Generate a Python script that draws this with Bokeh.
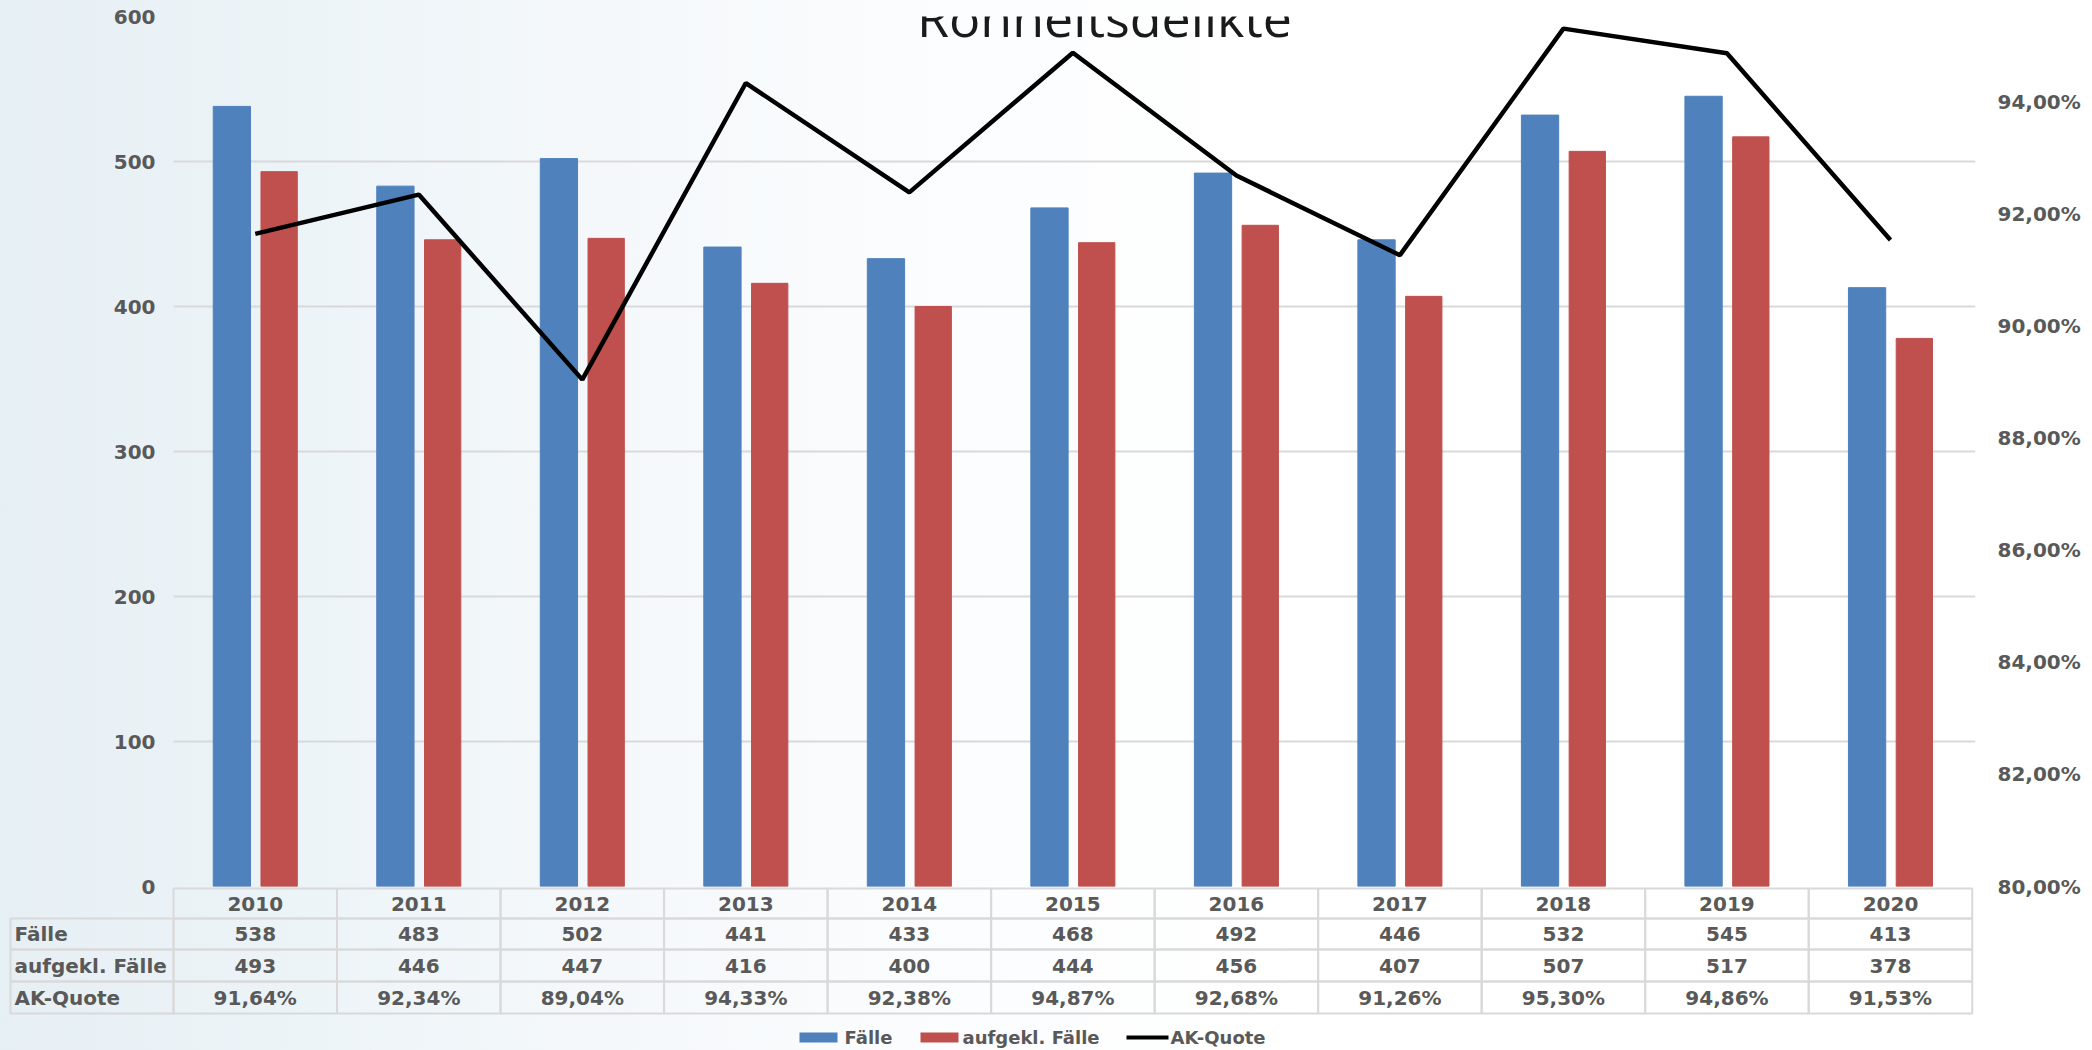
from bokeh.plotting import figure
from bokeh.models import Range1d, LinearAxis, FixedTicker, ColumnDataSource, Label
from bokeh.embed import file_html
from bokeh.resources import INLINE
from bokeh.core.properties import value

# ---------------- data ----------------
title_text = "Rohheitsdelikte"
years = ["2010", "2011", "2012", "2013", "2014", "2015", "2016", "2017", "2018", "2019", "2020"]
faelle = [538, 483, 502, 441, 433, 468, 492, 446, 532, 545, 413]
aufgekl = [493, 446, 447, 416, 400, 444, 456, 407, 507, 517, 378]
quote = [91.64, 92.34, 89.04, 94.33, 92.38, 94.87, 92.68, 91.26, 95.30, 94.86, 91.53]
row_labels = ["Fälle", "aufgekl. Fälle", "AK-Quote"]
left_ticks = [0, 100, 200, 300, 400, 500, 600]
right_ticks = [80, 82, 84, 86, 88, 90, 92, 94]
right_tick_labels = ["80,00%", "82,00%", "84,00%", "86,00%", "88,00%", "90,00%", "92,00%", "94,00%"]
series_names = ["Fälle", "aufgekl. Fälle", "AK-Quote"]

def pct(v):
    return f"{v:.2f}".replace(".", ",") + "%"

# ---------------- geometry (canvas px) ----------------
W, H = 2092, 1050
FRAME_L, FRAME_R = 173, 1975
FRAME_T, FRAME_B = 16, 886
X0, X1 = -0.5, 10.52
ppc = (FRAME_R - FRAME_L) / (X1 - X0)          # px per category
ppu = (FRAME_B - FRAME_T) / 600.0                # px per left unit
ppp = 56.07                                      # px per percent
P_HI = 80 + (FRAME_B - FRAME_T) / ppp

def dx(px):
    return X0 + (px - FRAME_L) / ppc

def dy(py):
    return (FRAME_B - py) / ppu

GRAY = "#595959"
GRID = "#d9d9d9"
BLUE = "#4F81BD"
RED = "#C0504D"
FONT = "DejaVu Sans"
BG = "linear-gradient(90deg, #e6eff4 0%, #edf4f8 15%, #f6f9fb 32%, #fcfdfe 48%, #ffffff 62%)"

idx = list(range(len(years)))

p = figure(width=W, height=H,
           x_range=Range1d(X0, X1), y_range=Range1d(0, 600),
           output_backend="svg", toolbar_location=None,
           x_axis_location=None,
           min_border_left=FRAME_L, min_border_right=W - FRAME_R,
           min_border_top=FRAME_T, min_border_bottom=H - FRAME_B)
p.extra_y_ranges = {"pct": Range1d(80, P_HI)}
p.border_fill_alpha = 0
p.background_fill_alpha = 0
p.outline_line_color = None
p.styles = {"background": BG}

# axes
ax = p.yaxis[0]
ax.ticker = FixedTicker(ticks=left_ticks)
raxis = LinearAxis(y_range_name="pct", ticker=FixedTicker(ticks=right_ticks),
                   major_label_overrides={t: l for t, l in zip(right_ticks, right_tick_labels)})
p.add_layout(raxis, "right")
for a in (ax, raxis):
    a.axis_line_color = None
    a.major_tick_line_color = None
    a.minor_tick_line_color = None
    a.major_label_text_font = FONT
    a.major_label_text_font_style = "bold"
    a.major_label_text_font_size = "20px"
    a.major_label_text_color = GRAY
ax.major_label_standoff = 12
raxis.major_label_standoff = 16

p.xgrid.visible = False
p.ygrid.ticker = FixedTicker(ticks=left_ticks[1:])
p.ygrid.grid_line_color = GRID
p.ygrid.grid_line_width = 2

src = ColumnDataSource(dict(
    x=idx, years=years, faelle=faelle, aufgekl=aufgekl, quote=quote,
    xb=[i - 0.143 for i in idx], xr=[i + 0.146 for i in idx],
))

p.vbar(x="xb", top="faelle", bottom=0, width=0.228, source=src, color=BLUE)
p.vbar(x="xr", top="aufgekl", bottom=0, width=0.222, source=src, color=RED)
p.line(x="x", y="quote", source=src, y_range_name="pct", line_color="black", line_width=4.5)

# ---------------- data table below the plot ----------------
OV = "overlay"   # not clipped to the frame
hdr_top, hdr_bot = dy(888), dy(918)
p.quad(left=[i - 0.5 for i in idx], right=[i + 0.5 for i in idx],
       top=[hdr_top] * len(idx), bottom=[hdr_bot] * len(idx),
       fill_color=None, line_color=GRID, line_width=2, level=OV)
txt_kw = dict(text_font=value(FONT), text_font_style="bold", text_font_size="20px",
              text_color=GRAY, text_baseline="middle", level=OV)
p.text(x="x", y=(hdr_top + hdr_bot) / 2, text="years", source=src,
       text_align="center", **txt_kw)

row_edges = [918, 949, 981, 1013]
tops = [dy(row_edges[k]) for k in range(3)]
bots = [dy(row_edges[k + 1]) for k in range(3)]
mids = [(a + b) / 2 for a, b in zip(tops, bots)]

L, R, T, B = [], [], [], []
for k in range(3):
    L.append(dx(10)); R.append(X0); T.append(tops[k]); B.append(bots[k])
    for i in idx:
        L.append(i - 0.5); R.append(i + 0.5); T.append(tops[k]); B.append(bots[k])
p.quad(left=L, right=R, top=T, bottom=B, fill_color=None, line_color=GRID, line_width=2, level=OV)

p.text(x=[dx(14)] * 3, y=mids, text=row_labels, text_align="left", **txt_kw)
rows = [[str(v) for v in faelle], [str(v) for v in aufgekl], [pct(v) for v in quote]]
for k in range(3):
    p.text(x=idx, y=[mids[k]] * len(idx), text=rows[k], text_align="center", **txt_kw)

# ---------------- legend ----------------
ly = dy(1037)
p.rect(x=[dx(818), dx(939)], y=[ly, ly], width=[38 / ppc, 38 / ppc], height=[10 / ppu, 10 / ppu],
       fill_color=[BLUE, RED], line_color=None, level=OV)
p.line(x=[dx(1126), dx(1168)], y=[ly, ly], line_color="black", line_width=4, level=OV)
p.text(x=[dx(844), dx(962), dx(1170)], y=[ly] * 3, text=series_names,
       text_align="left", text_font=value(FONT), text_font_style="bold",
       text_font_size="18px", text_color=GRAY, text_baseline="middle", level=OV)

# ---------------- title (cut off at the top, as in the source) ----------------
title = Label(x=dx(1104), y=dy(16), text=title_text,
              text_align="center", text_baseline="alphabetic",
              text_font="Open Sans", text_font_size="52px", text_color="#1a1a1a")
p.add_layout(title)

open("out.html", "w").write(file_html(p, INLINE))
